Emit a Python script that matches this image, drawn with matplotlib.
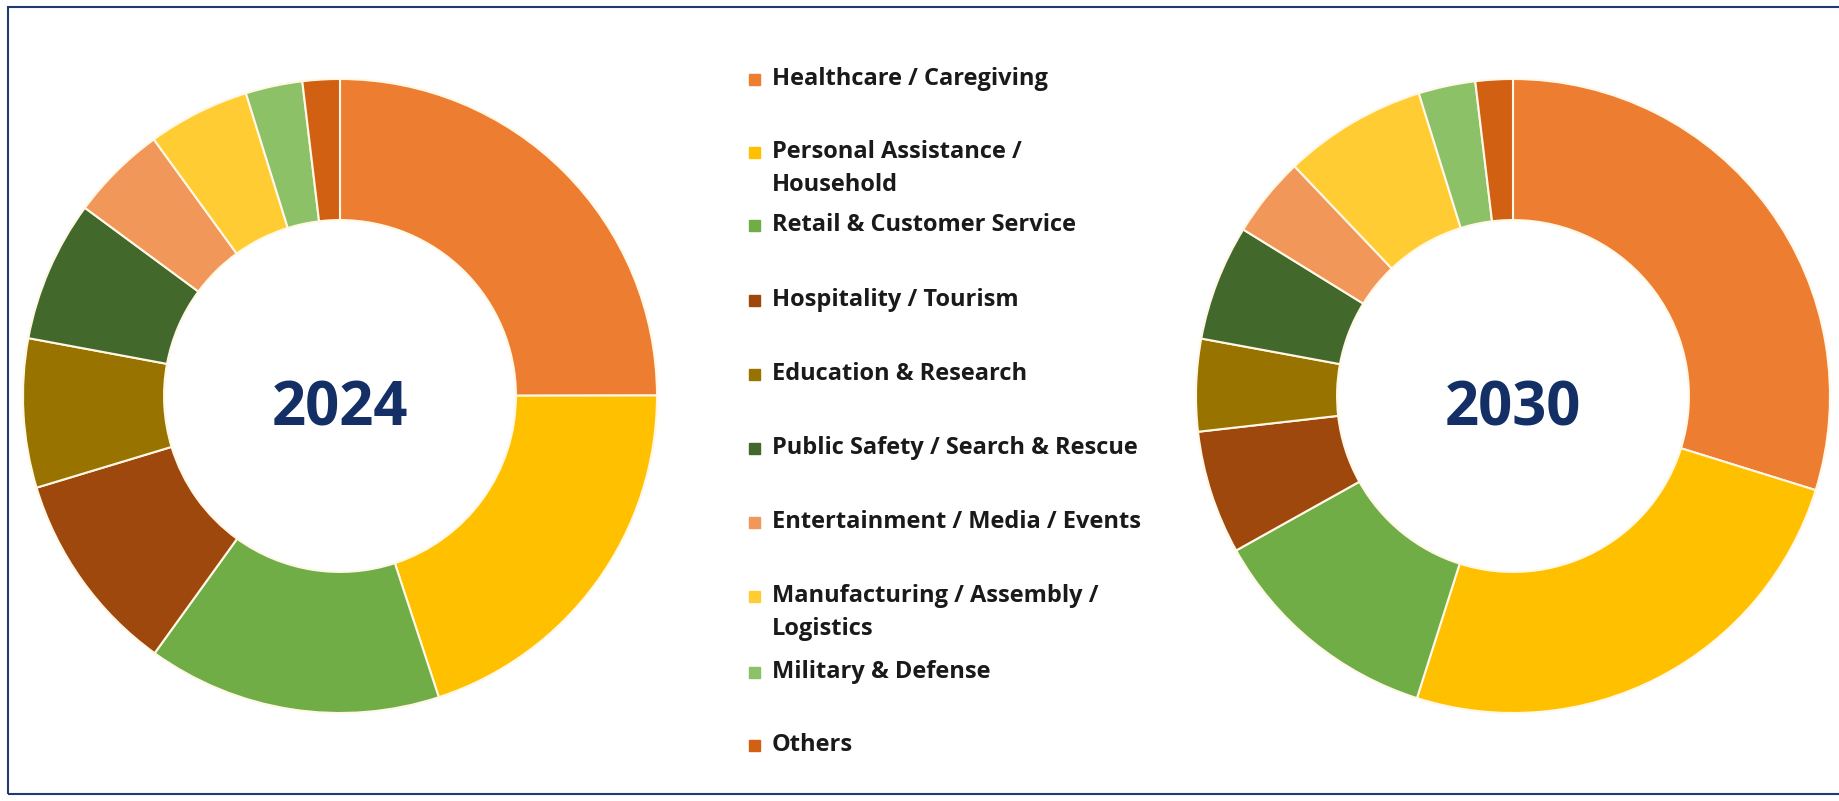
import matplotlib.pyplot as plt
from matplotlib.patches import Rectangle

categories = ["Healthcare / Caregiving", "Personal Assistance /\nHousehold",
              "Retail & Customer Service", "Hospitality / Tourism",
              "Education & Research", "Public Safety / Search & Rescue",
              "Entertainment / Media / Events",
              "Manufacturing / Assembly /\nLogistics", "Military & Defense",
              "Others"]
share_2024 = [25.0, 20.0, 15.0, 10.4, 7.6, 7.2, 4.9, 5.2, 2.9, 1.9]
share_2030 = [29.8, 25.1, 12.0, 6.3, 4.7, 5.9, 4.1, 7.3, 2.9, 1.9]
years = ["2024", "2030"]

colors = ["#ED7D31", "#FFC000", "#70AD47", "#9E480E", "#997300",
          "#43682B", "#F1975A", "#FFCD33", "#8CC168", "#D26012"]

plt.rcParams['font.family'] = ['Open Sans', 'DejaVu Sans']

W, H = 1839, 801
fig = plt.figure(figsize=(W / 100, H / 100), dpi=100)

# frame around the picture
fig.patches.append(Rectangle((8 / W, 7 / H), 1.0, 1 - 14 / H, transform=fig.transFigure,
                             fill=False, edgecolor="#1F3B73", linewidth=1.5))

R = 317  # outer radius in pixels
for cx, vals, year in [(340, share_2024, years[0]), (1513, share_2030, years[1])]:
	ax = fig.add_axes([(cx - R) / W, (H - 396 - R) / H, 2 * R / W, 2 * R / H])
	ax.pie(vals, colors=colors, startangle=90, counterclock=False,
	       wedgeprops=dict(width=0.445, edgecolor="#FFF8E7", linewidth=1.5))
	ax.set_xlim(-1, 1)
	ax.set_ylim(-1, 1)
	ax.text(0, -0.045, year, ha="center", va="center", fontsize=43,
	        fontweight="bold", color="#132F66")

# legend in the middle, drawn by hand
row_y = [79, 152, 225, 300, 374, 448, 522, 596, 672, 745]
for label, col, y in zip(categories, colors, row_y):
	fig.patches.append(Rectangle((749 / W, (H - y - 6) / H), 11 / W, 11 / H,
	                             transform=fig.transFigure, color=col))
	fig.text(772 / W, (H - y + 12) / H, label, ha="left", va="top",
	         fontsize=17, fontweight="bold", color="#1A1A1A",
	         linespacing=1.5, transform=fig.transFigure)

fig.savefig("out.png", dpi=100, facecolor="white")
